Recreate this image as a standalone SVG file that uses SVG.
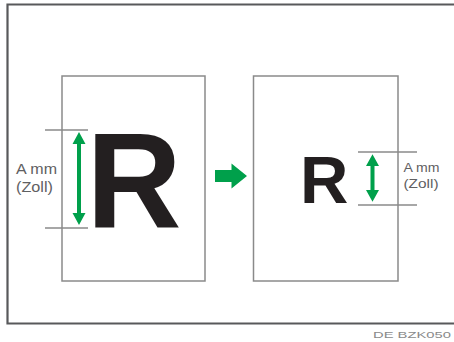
<svg xmlns="http://www.w3.org/2000/svg" width="454" height="342" viewBox="0 0 454 342">
<style>
.frame{fill:none;stroke:#58595b;stroke-width:2.2}
.page{fill:#fff;stroke:#8a8a8a;stroke-width:1.5}
.tick{stroke:#8a8a8a;stroke-width:1.5}
.green{fill:#00a04b}
.big{font-family:"Liberation Sans",Arial,sans-serif;font-weight:bold;fill:#231f20}
.lbl{font-family:"Liberation Sans",Arial,sans-serif;fill:#5f6062}
.foot{font-family:"Liberation Sans",Arial,sans-serif;fill:#8a8a8a;font-size:9px}
</style>
<rect width="454" height="342" fill="#fff"/>
<path class="frame" d="M460 4.5 H7.5 V323.5 H460"/>
<g id="original">
<rect class="page" x="62" y="76" width="143" height="205"/>
<text class="big" x="86.5" y="227" font-size="135" textLength="95" lengthAdjust="spacingAndGlyphs">R</text>
<line class="tick" x1="45" y1="130" x2="88" y2="130"/>
<line class="tick" x1="45" y1="228" x2="88" y2="228"/>
<path class="green" d="M79 132 L85.5 144 L81 144 L81 213 L85.5 213 L79 225 L72.5 213 L77 213 L77 144 L72.5 144 Z"/>
<text class="lbl" x="16" y="174" font-size="14" textLength="41" lengthAdjust="spacingAndGlyphs">A mm</text>
<text class="lbl" x="16" y="192" font-size="14" textLength="37" lengthAdjust="spacingAndGlyphs">(Zoll)</text>
</g>
<g id="reduced">
<rect class="page" x="253.5" y="76" width="144.5" height="205"/>
<text class="big" x="300" y="203" font-size="67">R</text>
<line class="tick" x1="358" y1="152" x2="417" y2="152"/>
<line class="tick" x1="358" y1="205" x2="417" y2="205"/>
<path class="green" d="M372.5 154.3 L379 166 L374.5 166 L374.5 190 L379 190 L372.5 201.7 L366 190 L370.5 190 L370.5 166 L366 166 Z"/>
<text class="lbl" x="403.5" y="172" font-size="13" textLength="36" lengthAdjust="spacingAndGlyphs">A mm</text>
<text class="lbl" x="403.5" y="188" font-size="13" textLength="35" lengthAdjust="spacingAndGlyphs">(Zoll)</text>
</g>
<g id="connectors">
<path class="green" d="M215 170 L231.5 170 L231.5 163.5 L247 176 L231.5 188.5 L231.5 182 L215 182 Z"/>
</g>
<text class="foot" x="373" y="338" textLength="78" lengthAdjust="spacingAndGlyphs">DE BZK050</text>
</svg>
